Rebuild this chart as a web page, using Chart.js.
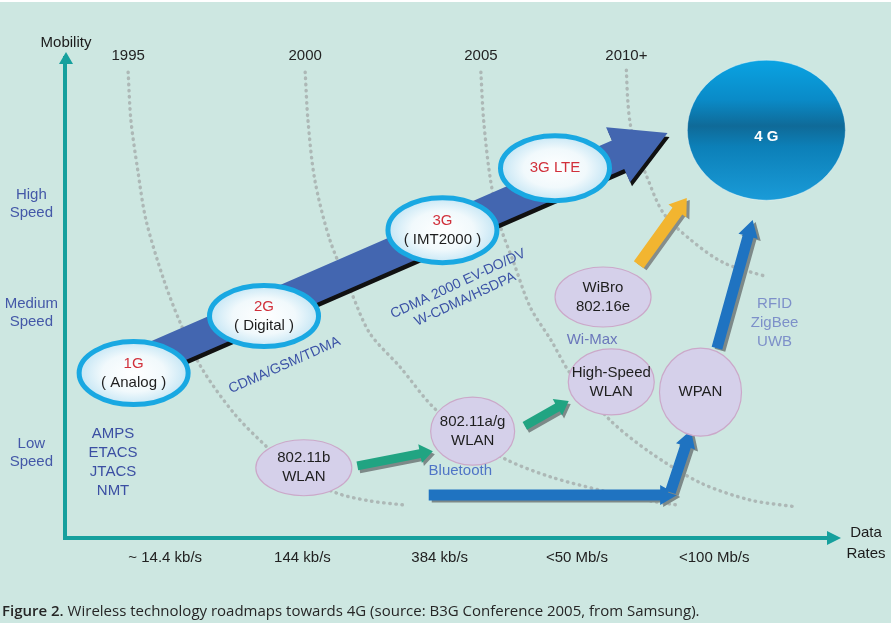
<!DOCTYPE html>
<html>
<head>
<meta charset="utf-8">
<script src="https://cdn.jsdelivr.net/npm/chart.js@4"></script>
<style>
  html, body { margin: 0; padding: 0; background: #cde7e1; }
  canvas { display: block; }
</style>
</head>
<body>
<canvas id="roadmap" width="891" height="623"></canvas>
<script>
// x = data-rate step (1..5 are the labelled rates), y = mobility (0..10)
const rateTicks = [1, 2, 3, 4, 5];
const rateLabels = ['~ 14.4 kb/s', '144 kb/s', '384 kb/s', '<50 Mb/s', '<100 Mb/s'];
const speedTicks = [1.79, 4.65, 6.89];
const speedLabels = [['Low', 'Speed'], ['Medium', 'Speed'], ['High', 'Speed']];

// dotted "generation" boundaries, one per year
const eraYears = ['1995', '2000', '2005', '2010+'];
const era1995 = [[0.73, 9.59], [0.75, 8.61], [0.80, 7.58], [0.86, 6.56], [0.99, 5.33], [1.11, 4.45], [1.26, 3.55],
  [1.50, 2.60], [1.74, 1.91], [1.98, 1.33], [2.25, 0.96], [2.49, 0.80], [2.73, 0.72]];
const era2000 = [[2.02, 9.59], [2.04, 8.61], [2.09, 7.38], [2.20, 6.15], [2.35, 5.12], [2.49, 4.24], [2.71, 3.55],
  [2.95, 2.73], [3.22, 2.11], [3.49, 1.64], [3.81, 1.29], [4.17, 1.02], [4.53, 0.80], [4.72, 0.72]];
const era2005 = [[3.30, 9.59], [3.32, 8.61], [3.37, 7.38], [3.44, 6.45], [3.54, 5.68], [3.66, 4.77], [3.81, 4.10],
  [3.95, 3.42], [4.24, 2.46], [4.53, 1.80], [4.90, 1.17], [5.26, 0.82], [5.59, 0.68]];
const era2010 = [[4.36, 9.63], [4.37, 9.02], [4.39, 8.50], [4.44, 7.99], [4.51, 7.44], [4.63, 6.70], [4.83, 6.15],
  [5.07, 5.68], [5.39, 5.39]];

// technologies
const nodeNames = [['1G', '( Analog )'], ['2G', '( Digital )'], ['3G', '( IMT2000 )'], ['3G LTE'],
  ['802.11b', 'WLAN'], ['802.11a/g', 'WLAN'], ['High-Speed', 'WLAN'], ['WiBro', '802.16e'], ['WPAN'], ['4 G']];
const nodeRate = [0.77, 1.72, 3.02, 3.84, 2.01, 3.24, 4.25, 4.19, 4.90, 5.38];
const nodeMobility = [3.42, 4.59, 6.35, 7.62, 1.48, 2.23, 3.24, 4.98, 3.03, 8.40];
const nodeKind = ['cell', 'cell', 'cell', 'cell', 'lan', 'lan', 'lan', 'lan', 'lan', 'goal'];

// migration paths
const arrowFrom = [[0.77, 3.57], [2.40, 1.52], [3.62, 2.34], [4.45, 5.64], [2.92, 0.92], [4.68, 0.98], [5.02, 3.93]];
const arrowTo = [[4.66, 8.34], [2.95, 1.82], [3.94, 2.85], [4.80, 7.01], [4.73, 0.92], [4.83, 2.25], [5.28, 6.56]];
const arrowKind = ['cell', 'wlan', 'wlan', 'wibro', 'wpan', 'wpan', 'wpan'];

// standards written beside the paths
const noteText = [['AMPS', 'ETACS', 'JTACS', 'NMT'], ['CDMA/GSM/TDMA'], ['CDMA 2000 EV-DO/DV', 'W-CDMA/HSDPA'],
  ['Bluetooth'], ['Wi-Max'], ['RFID', 'ZigBee', 'UWB']];
const noteRate = [0.62, 1.87, 3.16, 3.15, 4.11, 5.44];
const noteMobility = [1.60, 3.58, 5.09, 1.41, 4.10, 4.45];

const FONT = '"Liberation Sans", Arial, sans-serif';
const AXIS = '#16a09d';

const nodeSize = {
  rx: [57, 57, 57, 57, 48, 42, 43, 48, 41, 79],
  ry: [34, 33, 35, 35, 28, 34, 33, 30, 44, 70]
};
const arrowStyle = {
  cell:  { shaft: 31, head: 60, headLen: 54, color: '#4366b0', shadow: '#111', dx: 2, dy: 4 },
  wlan:  { shaft: 9,  head: 19, headLen: 13, color: '#21a482', shadow: '#7d8988', dx: 2, dy: 3 },
  wibro: { shaft: 12, head: 22, headLen: 16, color: '#f2b530', shadow: '#858d8b', dx: 3, dy: 2 },
  wpan:  { shaft: 11, head: 20, headLen: 17, color: '#1f73c1', shadow: '#7d8988', dx: 3, dy: 2 }
};
const noteStyle = {
  angle: [0, -24, -25, 0, 0, 0],
  color: ['#3b4fa3', '#3b52a6', '#3b52a6', '#4f74c6', '#6b77bb', '#7d90c9'],
  size: [15, 14, 14, 15, 15, 15],
  lineHeight: [19, 17, 17, 19, 19, 19]
};

function arrowPath(ctx, x0, y0, x1, y1, s) {
  const len = Math.hypot(x1 - x0, y1 - y0);
  const ux = (x1 - x0) / len, uy = (y1 - y0) / len;
  const nx = -uy, ny = ux;
  const bx = x1 - ux * s.headLen, by = y1 - uy * s.headLen;
  const w = s.shaft / 2, h = s.head / 2;
  ctx.beginPath();
  ctx.moveTo(x0 + nx * w, y0 + ny * w);
  ctx.lineTo(bx + nx * w, by + ny * w);
  ctx.lineTo(bx + nx * h, by + ny * h);
  ctx.lineTo(x1, y1);
  ctx.lineTo(bx - nx * h, by - ny * h);
  ctx.lineTo(bx - nx * w, by - ny * w);
  ctx.lineTo(x0 - nx * w, y0 - ny * w);
  ctx.closePath();
}

function textLines(ctx, lines, x, y, lh, colors) {
  const top = y - (lines.length - 1) * lh / 2;
  lines.forEach(function (t, i) {
    ctx.fillStyle = colors[i] || colors[colors.length - 1];
    ctx.fillText(t, x, top + i * lh);
  });
}

function drawNode(ctx, i, cx, cy) {
  const rx = nodeSize.rx[i], ry = nodeSize.ry[i];
  const kind = nodeKind[i];
  ctx.save();
  if (kind === 'cell') {
    ctx.save();
    ctx.translate(cx, cy);
    ctx.scale(1, ry / rx);
    const g = ctx.createRadialGradient(0, 0, 0, 0, 0, rx);
    g.addColorStop(0, '#ffffff');
    g.addColorStop(0.55, '#f1f9fc');
    g.addColorStop(0.82, '#d3ecf7');
    g.addColorStop(1, '#bfe4f4');
    ctx.beginPath();
    ctx.arc(0, 0, rx - 3, 0, Math.PI * 2);
    ctx.fillStyle = g;
    ctx.fill();
    ctx.restore();
    ctx.beginPath();
    ctx.ellipse(cx, cy, rx - 2.5, ry - 2.5, 0, 0, Math.PI * 2);
    ctx.lineWidth = 5;
    ctx.strokeStyle = '#19a8e2';
    ctx.stroke();
    ctx.font = '15px ' + FONT;
    ctx.textAlign = 'center';
    ctx.textBaseline = 'middle';
    textLines(ctx, nodeNames[i], cx, cy, 19, ['#d1303b', '#1e1e1e']);
  } else if (kind === 'lan') {
    ctx.beginPath();
    ctx.ellipse(cx, cy, rx, ry, 0, 0, Math.PI * 2);
    ctx.fillStyle = '#d5d0ea';
    ctx.fill();
    ctx.lineWidth = 1.2;
    ctx.strokeStyle = '#cba8c9';
    ctx.stroke();
    ctx.font = '15px ' + FONT;
    ctx.textAlign = 'center';
    ctx.textBaseline = 'middle';
    textLines(ctx, nodeNames[i], cx, cy, 19, ['#1e1e1e']);
  } else {
    const g = ctx.createLinearGradient(0, cy - ry, 0, cy + ry);
    g.addColorStop(0, '#0aa3e2');
    g.addColorStop(0.28, '#0a8bc8');
    g.addColorStop(0.47, '#0f6a98');
    g.addColorStop(0.62, '#0c80b8');
    g.addColorStop(1, '#1a9bd8');
    ctx.beginPath();
    ctx.ellipse(cx, cy, rx, ry, 0, 0, Math.PI * 2);
    ctx.fillStyle = g;
    ctx.fill();
    ctx.lineWidth = 1;
    ctx.strokeStyle = 'rgba(255,255,255,0.35)';
    ctx.stroke();
    ctx.font = 'bold 15px ' + FONT;
    ctx.textAlign = 'center';
    ctx.textBaseline = 'middle';
    textLines(ctx, nodeNames[i], cx, cy + 7, 19, ['#ffffff']);
  }
  ctx.restore();
}

const roadmapPlugin = {
  id: 'roadmap',
  beforeDraw(chart) {
    const ctx = chart.ctx;
    ctx.save();
    ctx.fillStyle = '#cde7e1';
    ctx.fillRect(0, 0, chart.width, chart.height);
    ctx.fillStyle = '#ffffff';
    ctx.fillRect(0, 0, chart.width, 2);
    ctx.restore();
  },
  afterDatasetsDraw(chart) {
    const ctx = chart.ctx;
    const xs = chart.scales.x, ys = chart.scales.y;
    const area = chart.chartArea;
    const px = function (v) { return xs.getPixelForValue(v); };
    const py = function (v) { return ys.getPixelForValue(v); };
    ctx.save();

    // year over the top of each boundary
    ctx.font = '15px ' + FONT;
    ctx.textAlign = 'center';
    ctx.textBaseline = 'middle';
    ctx.fillStyle = '#232323';
    chart.data.datasets.forEach(function (ds) {
      ctx.fillText(ds.label, px(ds.data[0].x), area.top - 2);
    });

    // axis arrowheads and titles
    ctx.fillStyle = AXIS;
    ctx.beginPath();
    ctx.moveTo(area.left + 1, area.top - 6);
    ctx.lineTo(area.left + 8, area.top + 6);
    ctx.lineTo(area.left - 6, area.top + 6);
    ctx.closePath();
    ctx.fill();
    ctx.beginPath();
    ctx.moveTo(area.right + 6, area.bottom);
    ctx.lineTo(area.right - 8, area.bottom - 7);
    ctx.lineTo(area.right - 8, area.bottom + 7);
    ctx.closePath();
    ctx.fill();
    ctx.fillStyle = '#1b1b1b';
    ctx.fillText('Mobility', area.left + 1, area.top - 15);
    textLines(ctx, ['Data', 'Rates'], area.right + 31, area.bottom + 5, 21, ['#1b1b1b']);

    // paths
    arrowFrom.forEach(function (a, i) {
      const s = arrowStyle[arrowKind[i]];
      const b = arrowTo[i];
      const x0 = px(a[0]), y0 = py(a[1]), x1 = px(b[0]), y1 = py(b[1]);
      ctx.save();
      ctx.translate(s.dx, s.dy);
      arrowPath(ctx, x0, y0, x1, y1, s);
      ctx.fillStyle = s.shadow;
      ctx.fill();
      ctx.restore();
      arrowPath(ctx, x0, y0, x1, y1, s);
      ctx.fillStyle = s.color;
      ctx.fill();
    });

    // technologies
    nodeNames.forEach(function (n, i) {
      drawNode(ctx, i, px(nodeRate[i]), py(nodeMobility[i]));
    });

    // notes
    noteText.forEach(function (lines, i) {
      ctx.save();
      ctx.translate(px(noteRate[i]), py(noteMobility[i]));
      ctx.rotate(noteStyle.angle[i] * Math.PI / 180);
      ctx.font = noteStyle.size[i] + 'px ' + FONT;
      ctx.textAlign = 'center';
      ctx.textBaseline = 'middle';
      textLines(ctx, lines, 0, 0, noteStyle.lineHeight[i], [noteStyle.color[i]]);
      ctx.restore();
    });

    // caption
    ctx.textAlign = 'left';
    ctx.textBaseline = 'middle';
    ctx.fillStyle = '#262626';
    ctx.font = '600 15px "Open Sans", sans-serif';
    const head = 'Figure 2.';
    ctx.fillText(head, 2, 612);
    const w = ctx.measureText(head).width;
    ctx.font = '15px "Open Sans", sans-serif';
    ctx.fillText(' Wireless technology roadmaps towards 4G (source: B3G Conference 2005, from Samsung).', 2 + w, 612);
    ctx.restore();
  }
};

function eraDataset(year, pts) {
  return {
    label: year,
    data: pts.map(function (p) { return { x: p[0], y: p[1] }; }),
    showLine: true,
    pointRadius: 0,
    borderColor: '#adb8b6',
    borderWidth: 3.4,
    borderDash: [0.5, 5.6],
    borderCapStyle: 'round',
    tension: 0.3,
    fill: false
  };
}

new Chart(document.getElementById('roadmap'), {
  type: 'scatter',
  data: {
    datasets: [
      eraDataset(eraYears[0], era1995),
      eraDataset(eraYears[1], era2000),
      eraDataset(eraYears[2], era2005),
      eraDataset(eraYears[3], era2010)
    ]
  },
  options: {
    responsive: false,
    devicePixelRatio: 1,
    animation: false,
    events: [],
    layout: { padding: { top: 58, right: 56, bottom: 0, left: 0 } },
    plugins: { legend: { display: false }, tooltip: { enabled: false } },
    scales: {
      x: {
        type: 'linear',
        min: 0.27,
        max: 5.88,
        afterBuildTicks: function (scale) {
          scale.ticks = rateTicks.map(function (v) { return { value: v }; });
        },
        afterFit: function (scale) { scale.height = 85; },
        grid: { display: false, drawTicks: false },
        border: { color: AXIS, width: 4 },
        ticks: {
          autoSkip: false,
          maxRotation: 0,
          padding: 11,
          color: '#222',
          font: { family: FONT, size: 15 },
          callback: function (v, i) { return rateLabels[i]; }
        }
      },
      y: {
        type: 'linear',
        min: 0.04,
        max: 9.88,
        afterBuildTicks: function (scale) {
          scale.ticks = speedTicks.map(function (v) { return { value: v }; });
        },
        afterFit: function (scale) { scale.width = 65; },
        grid: { display: false, drawTicks: false },
        border: { color: AXIS, width: 4 },
        ticks: {
          autoSkip: false,
          crossAlign: 'center',
          padding: 7,
          color: '#4458a8',
          font: { family: FONT, size: 15 },
          callback: function (v, i) { return speedLabels[i]; }
        }
      }
    }
  },
  plugins: [roadmapPlugin]
});
</script>
</body>
</html>
